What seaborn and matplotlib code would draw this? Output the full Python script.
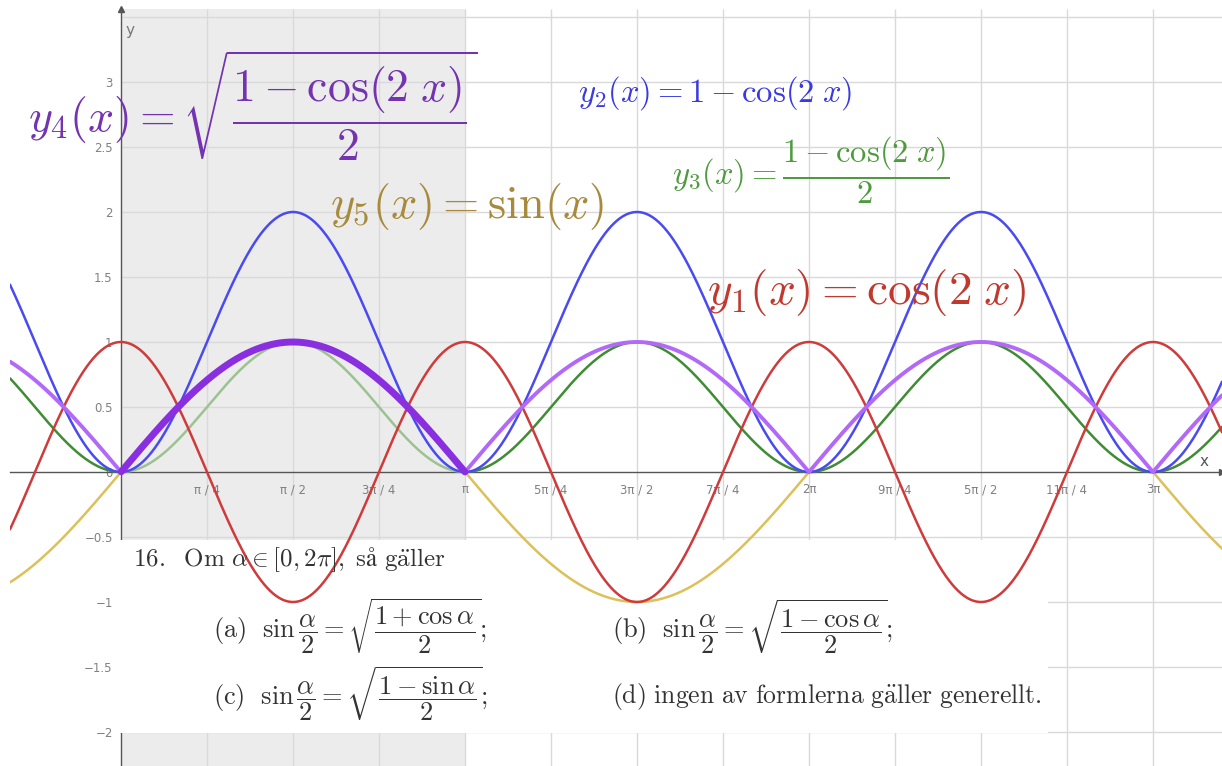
import numpy as np
import matplotlib
matplotlib.use("Agg")
import matplotlib.pyplot as plt
import seaborn as sns
from matplotlib.patches import Rectangle

sns.set_theme(style="white")
plt.rcParams["font.family"] = ["DejaVu Sans"]
plt.rcParams["mathtext.fontset"] = "cm"

W, H = 1222, 766
DPI = 100

# visible window of the graphics view (data units)
X_LIMITS = (-1.0137, 10.055)
Y_LIMITS = (-2.2615, 3.5615)
SHADE_RANGE = (0.0, np.pi)          # highlighted interval 0 <= x <= pi

# axis ticks: multiples of pi/4 on x, steps of 0.5 on y
x_quarter_steps = [1, 2, 3, 4, 5, 6, 7, 8, 9, 10, 11, 12]
x_tick_labels = ["π / 4", "π / 2", "3π / 4", "π", "5π / 4", "3π / 2",
                 "7π / 4", "2π", "9π / 4", "5π / 2", "11π / 4", "3π"]
y_ticks = [-2, -1.5, -1, -0.5, 0, 0.5, 1, 1.5, 2, 2.5, 3]
y_tick_labels = ["−2", "−1.5", "−1", "−0.5", "0", "0.5", "1", "1.5", "2", "2.5", "3"]
grid_y = [-2, -1.5, -1, -0.5, 0.5, 1, 1.5, 2, 2.5, 3, 3.5]

# colours of the five functions
C_RED = "#cf3b3b"
C_BLUE = "#4a4af2"
C_GREEN = "#3f8c35"
C_GREEN_PALE = "#9cc292"
C_PURPLE_LIGHT = "#b369f7"
C_PURPLE_DARK = "#8a2fe0"
C_GOLD = "#dcc05a"

fig = plt.figure(figsize=(W / DPI, H / DPI), dpi=DPI)
ax = fig.add_axes([10 / W, 0, (W - 10) / W, (H - 9) / H])
ax.set_xlim(*X_LIMITS)
ax.set_ylim(*Y_LIMITS)
ax.set_facecolor("white")


def fig_xy(px, py):
    return px / W, 1 - py / H


# shaded interval
ax.axvspan(*SHADE_RANGE, color="#ececec", zorder=0, lw=0)

# grid (only to the right of the y-axis)
x_grid = [k * np.pi / 4 for k in x_quarter_steps + [13]]
ax.vlines(x_grid, Y_LIMITS[0], Y_LIMITS[1], colors="#d9d9d9", lw=1.0, zorder=0.5)
ax.hlines(grid_y, 0, X_LIMITS[1], colors="#d9d9d9", lw=1.0, zorder=0.5)

# axes through the origin
for side in ["top", "right"]:
    ax.spines[side].set_visible(False)
ax.spines["left"].set_position(("data", 0))
ax.spines["bottom"].set_position(("data", 0))
for side in ["left", "bottom"]:
    ax.spines[side].set_color("#555555")
    ax.spines[side].set_linewidth(1.0)
    ax.spines[side].set_zorder(2.5)

ax.set_xticks([k * np.pi / 4 for k in x_quarter_steps], x_tick_labels)
ax.set_yticks(y_ticks, y_tick_labels)
ax.tick_params(axis="x", length=0, pad=8, labelsize=8.5, labelcolor="#808080")
ax.tick_params(axis="y", length=0, pad=6, labelsize=8.5, labelcolor="#808080")

# arrow heads and axis names
ax.plot(1, 0, ">", ms=5, color="#555555", transform=ax.get_yaxis_transform(), clip_on=False, zorder=3)
ax.plot(0, 1, "^", ms=5, color="#555555", transform=ax.get_xaxis_transform(), clip_on=False, zorder=3)
fig.text(*fig_xy(125, 30), "y", fontsize=11, color="#777777", ha="left", va="center")
fig.text(*fig_xy(1200, 462), "x", fontsize=11, color="#555555", ha="left", va="center")

# white panel behind the exercise text
ax.add_patch(Rectangle(fig_xy(118, 733), 930 / W, 193 / H, transform=fig.transFigure,
                       facecolor="white", edgecolor="none", zorder=2.7))

# functions
x = np.linspace(X_LIMITS[0], X_LIMITS[1], 4000)
y1 = np.cos(2 * x)
y2 = 1 - np.cos(2 * x)
y3 = (1 - np.cos(2 * x)) / 2
y4 = np.sqrt(np.clip((1 - np.cos(2 * x)) / 2, 0, None))
y5 = np.sin(x)
left = x < SHADE_RANGE[0]
inside = (x >= SHADE_RANGE[0]) & (x <= SHADE_RANGE[1])
right = x > SHADE_RANGE[1]


def curve(mask, y, color, lw, z):
    sns.lineplot(x=x[mask], y=y[mask], color=color, lw=lw, ax=ax,
                 estimator=None, sort=False, zorder=z)


everywhere = np.ones_like(x, dtype=bool)
curve(everywhere, y5, C_GOLD, 1.8, 3.0)
curve(left, y3, C_GREEN, 1.8, 3.1)
curve(right, y3, C_GREEN, 1.8, 3.1)
curve(inside, y3, C_GREEN_PALE, 1.8, 3.1)
curve(everywhere, y1, C_RED, 1.8, 3.2)
curve(everywhere, y2, C_BLUE, 1.8, 3.3)
curve(everywhere, y4, C_PURPLE_LIGHT, 2.8, 3.4)
curve(inside, y4, C_PURPLE_DARK, 5.0, 3.5)
ax.set_xlabel("")
ax.set_ylabel("")

# function captions
fig.text(*fig_xy(28, 106), r"$y_4(x) = \sqrt{\dfrac{1 - \cos(2\;x)}{2}}$",
         fontsize=33, color="#7433b0", ha="left", va="center", zorder=5)
fig.text(*fig_xy(578, 93), r"$y_2(x) = 1 - \cos(2\;x)$",
         fontsize=23.5, color="#3a3ae0", ha="left", va="center", zorder=5)
fig.text(*fig_xy(672, 170), r"$y_3(x) = \dfrac{1 - \cos(2\;x)}{2}$",
         fontsize=23.5, color="#4f9a3f", ha="left", va="center", zorder=5)
fig.text(*fig_xy(330, 206), r"$y_5(x) = \sin(x)$",
         fontsize=33.5, color="#a88a3c", ha="left", va="center", zorder=5)
fig.text(*fig_xy(707, 293), r"$y_1(x) = \cos(2\;x)$",
         fontsize=34, color="#c0392f", ha="left", va="center", zorder=5)

# exercise text
q_color = "#333333"
fig.text(*fig_xy(133, 560),
         r"$16.\ \ \mathrm{Om}\ \alpha \in [0, 2\pi],\ \mathrm{så\ g}\ddot{\mathrm{a}}\mathrm{ller}$",
         fontsize=18, color=q_color, ha="left", va="center", zorder=2.8)
fig.text(*fig_xy(213, 627),
         r"$(\mathrm{a})\ \ \sin\dfrac{\alpha}{2} = \sqrt{\dfrac{1+\cos\alpha}{2}};$",
         fontsize=19, color=q_color, ha="left", va="center", zorder=2.8)
fig.text(*fig_xy(612, 627),
         r"$(\mathrm{b})\ \ \sin\dfrac{\alpha}{2} = \sqrt{\dfrac{1-\cos\alpha}{2}};$",
         fontsize=19, color=q_color, ha="left", va="center", zorder=2.8)
fig.text(*fig_xy(213, 694),
         r"$(\mathrm{c})\ \ \sin\dfrac{\alpha}{2} = \sqrt{\dfrac{1-\sin\alpha}{2}};$",
         fontsize=19, color=q_color, ha="left", va="center", zorder=2.8)
fig.text(*fig_xy(612, 697),
         r"$(\mathrm{d})\ \mathrm{ingen\ av\ formlerna\ g}\ddot{\mathrm{a}}\mathrm{ller\ generellt.}$",
         fontsize=18.5, color=q_color, ha="left", va="center", zorder=2.8)

fig.savefig("out.png", dpi=DPI)
